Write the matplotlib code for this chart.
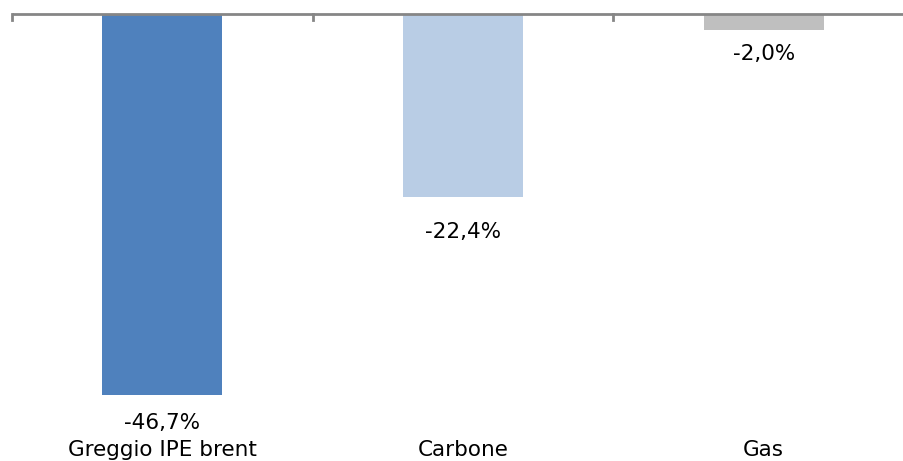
import matplotlib
matplotlib.use('Agg')
import matplotlib.pyplot as plt
import matplotlib.transforms as mtransforms

categorie = ['Greggio IPE brent', 'Carbone', 'Gas']
variazioni = [-46.7, -22.4, -2.0]
etichette = ['-46,7%', '-22,4%', '-2,0%']
colori = ['#4F81BD', '#B9CDE5', '#BFBFBF']

W, H = 904, 461
fig = plt.figure(figsize=(W / 100, H / 100), dpi=100)
# axes in pixel: x 12 -> 914, y top 14, 0..-50 -> 8.158 px/unit
top = 14
scala = 381 / 46.7
bottom = top + 50 * scala
ax = fig.add_axes([12 / W, 1 - bottom / H, 902 / W, (bottom - top) / H])
ax.set_xlim(-0.5, 2.5)
ax.set_ylim(-50, 0)

x = range(len(categorie))
ax.bar(x, variazioni, width=0.4, color=colori, zorder=2)

for s in ['left', 'right', 'bottom', 'top']:
    ax.spines[s].set_visible(False)
ax.set_xticks([])
ax.set_yticks([])
# linea dell'asse a zero con tacche verso il basso
ax.plot([-0.5, 2.5], [0, 0], color='#868686', lw=2, clip_on=False, zorder=3,
        solid_capstyle='butt')
for xt in [-0.5, 0.5, 1.5]:
    ax.plot([xt, xt], [0, -6 / scala], color='#868686', lw=2, clip_on=False, zorder=3)

scostamenti = [28, 35, 24]
for i, (v, t) in enumerate(zip(variazioni, etichette)):
    ax.annotate(t, (i, v), xytext=(0, -scostamenti[i] * 0.72), textcoords='offset points',
                ha='center', va='center', fontsize=15.5, color='black')

trans = mtransforms.blended_transform_factory(ax.transData, fig.transFigure)
for i, c in enumerate(categorie):
    ax.text(i, 1 - 450 / H, c, transform=trans, ha='center', va='center',
            fontsize=15.5, color='black')

fig.savefig('out.png', dpi=100)
